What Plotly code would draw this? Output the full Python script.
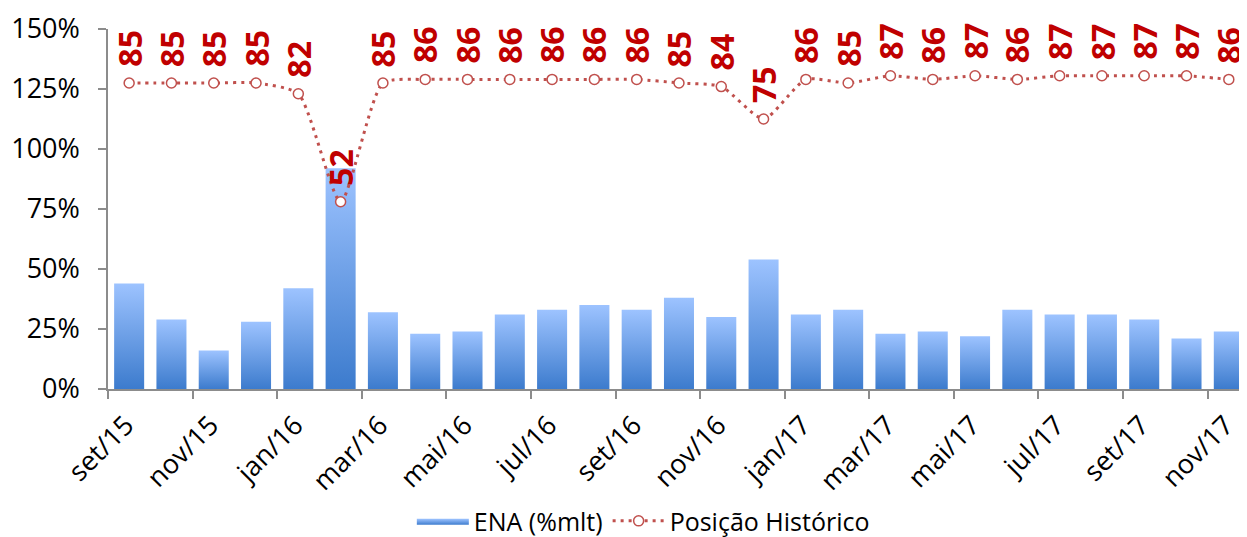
import plotly.graph_objects as go

# --- data ---
months = [
    "set/15", "out/15", "nov/15", "dez/15", "jan/16", "fev/16", "mar/16", "abr/16",
    "mai/16", "jun/16", "jul/16", "ago/16", "set/16", "out/16", "nov/16", "dez/16",
    "jan/17", "fev/17", "mar/17", "abr/17", "mai/17", "jun/17", "jul/17", "ago/17",
    "set/17", "out/17", "nov/17",
]
ena_pct = [44, 29, 16, 28, 42, 92, 32, 23, 24, 31, 33, 35, 33, 38, 30, 54,
           31, 33, 23, 24, 22, 33, 31, 31, 29, 21, 24]
posicao = [85, 85, 85, 85, 82, 52, 85, 86, 86, 86, 86, 86, 86, 85, 84, 75,
           86, 85, 87, 86, 87, 86, 87, 87, 87, 87, 86]
y_ticks = [0, 25, 50, 75, 100, 125, 150]

FONT = "Open Sans, Arial, sans-serif"
RED = "#C0504D"
LABEL_RED = "#C00000"
AXIS_GREY = "#8C8C8C"
BAR_W = 0.71

fig = go.Figure()

# bars drawn as filled shapes so each one gets its own vertical gradient
for i, v in enumerate(ena_pct):
    x0, x1 = i - BAR_W / 2, i + BAR_W / 2
    fig.add_trace(
        go.Scatter(
            x=[x0, x1, x1, x0, x0],
            y=[0, 0, v, v, 0],
            mode="lines",
            line=dict(width=0),
            fill="toself",
            fillgradient=dict(
                type="vertical",
                colorscale=[[0, "#3C7BCD"], [1, "#9DC3FF"]],
            ),
            name="ENA (%mlt)",
            legendgroup="ena",
            showlegend=(i == 0),
            hoverinfo="skip",
        )
    )

fig.add_trace(
    go.Scatter(
        x=list(range(len(months))),
        y=posicao,
        yaxis="y2",
        mode="lines+markers",
        line=dict(color=RED, width=3, dash="3px,5px", shape="spline", smoothing=0.6),
        marker=dict(symbol="circle", size=10, color="white", line=dict(color=RED, width=1.5)),
        name="Posição Histórico",
    )
)

# rotated value labels above each point
for i, p in enumerate(posicao):
    fig.add_annotation(
        x=i,
        y=p,
        xref="x",
        yref="y2",
        text=f"<b>{p}</b>",
        textangle=-90,
        showarrow=False,
        yanchor="bottom",
        yshift=14,
        font=dict(family=FONT, size=32, color=LABEL_RED),
    )

tick_pos = [i - 0.5 for i in range(0, len(months), 2)]
tick_txt = [months[i] for i in range(0, len(months), 2)]

# page body has an 8px margin, so the figure is sized/margined to compensate
fig.update_layout(
    width=1239,
    height=529,
    plot_bgcolor="white",
    paper_bgcolor="white",
    margin=dict(l=100, r=0, t=21, b=148, autoexpand=False),
    font=dict(family=FONT, size=27, color="black"),
    xaxis=dict(
        range=[-0.5, 26.43],
        tickmode="array",
        tickvals=tick_pos,
        ticktext=tick_txt,
        tickangle=-45,
        ticks="outside",
        ticklen=8,
        tickcolor=AXIS_GREY,
        tickwidth=1.5,
        showline=True,
        linecolor=AXIS_GREY,
        linewidth=1.5,
        showgrid=False,
        zeroline=False,
        automargin=False,
        ticklabelshift=18,
        ticklabelstandoff=0,
        tickfont=dict(size=27),
    ),
    yaxis=dict(
        range=[0, 150],
        tickmode="array",
        tickvals=y_ticks,
        ticktext=[f"{t}%" for t in y_ticks],
        ticks="outside",
        ticklen=8,
        tickcolor=AXIS_GREY,
        tickwidth=1.5,
        showline=True,
        linecolor=AXIS_GREY,
        linewidth=1.5,
        showgrid=False,
        zeroline=False,
        automargin=False,
        ticklabelstandoff=13,
        tickfont=dict(size=27),
    ),
    yaxis2=dict(range=[0, 100], overlaying="y", visible=False),
    showlegend=True,
    legend=dict(
        orientation="h",
        x=0.47,
        xanchor="center",
        y=-0.367,
        yanchor="middle",
        font=dict(size=25),
        itemwidth=52,
        bgcolor="rgba(0,0,0,0)",
    ),
)

fig.write_html("out.html")
